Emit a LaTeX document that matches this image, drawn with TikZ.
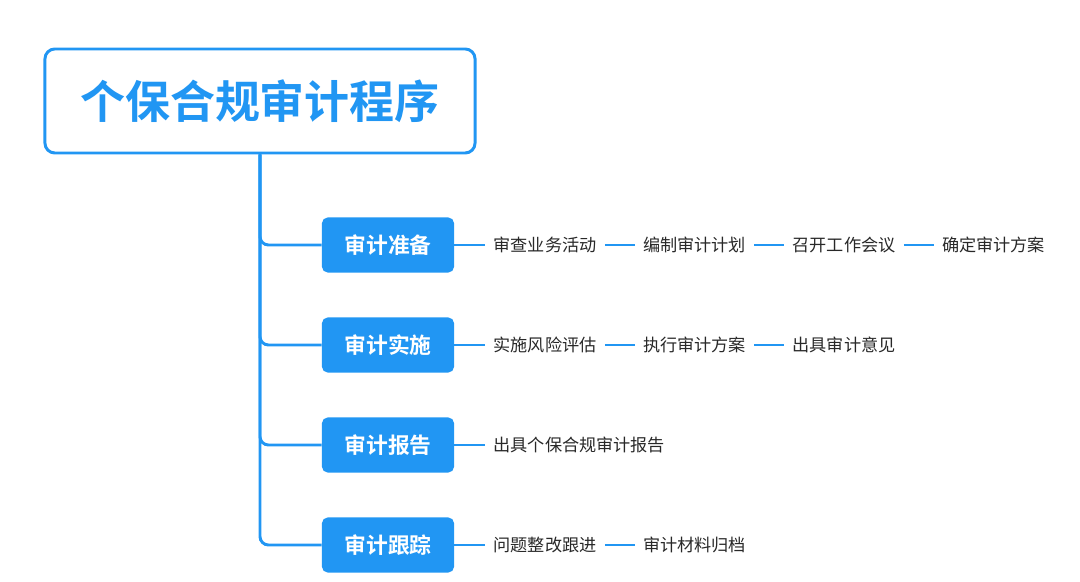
\documentclass[tikz,border=0pt]{standalone}
\usepackage{fontspec}
\setmainfont{Noto Sans CJK SC}[BoldFont={Noto Sans CJK SC Bold}]
\usepackage{xcolor}
\usepackage{tikz}
\usetikzlibrary{positioning}
\definecolor{mapblue}{RGB}{33,150,243}
\definecolor{itemtext}{RGB}{40,40,40}
\begin{document}
\begin{tikzpicture}[x=0.025cm,y=-0.025cm,
	titlebox/.style={draw=mapblue,line width=2.1pt,rounded corners=7pt,fill=white,minimum width=10.75cm,minimum height=2.6cm,text=mapblue,font=\fontsize{32}{36}\selectfont\bfseries},
	stagebox/.style={fill=mapblue,rounded corners=4pt,minimum width=3.3cm,minimum height=1.375cm,text=white,font=\fontsize{15.5}{18}\selectfont\bfseries},
	item/.style={inner xsep=0.2cm,inner ysep=2pt,text=itemtext,font=\fontsize{12.2}{14}\selectfont},
	trunk/.style={draw=mapblue,line width=2.1pt,rounded corners=6pt},
	link/.style={draw=mapblue,line width=1.5pt},
	node distance=0.75cm]
	\useasboundingbox (0,0) rectangle (1080,582);
	\node[titlebox] (title) at (260,101) {个保合规审计程序};
	\node[stagebox] (prep) at (388,245) {审计准备};
	\node[stagebox] (exec) at (388,345) {审计实施};
	\node[stagebox] (report) at (388,445) {审计报告};
	\node[stagebox] (track) at (388,545) {审计跟踪};
	\foreach \s in {prep,exec,report,track}
		\draw[trunk] (title.south) |- (\s.west);
	% 审计准备
	\node[item,right=0.775cm of prep] (p1) {审查业务活动};
	\node[item,right=of p1] (p2) {编制审计计划};
	\node[item,right=of p2] (p3) {召开工作会议};
	\node[item,right=of p3] (p4) {确定审计方案};
	\draw[link] (prep) -- (p1) (p1) -- (p2) (p2) -- (p3) (p3) -- (p4);
	% 审计实施
	\node[item,right=0.775cm of exec] (e1) {实施风险评估};
	\node[item,right=of e1] (e2) {执行审计方案};
	\node[item,right=of e2] (e3) {出具审计意见};
	\draw[link] (exec) -- (e1) (e1) -- (e2) (e2) -- (e3);
	% 审计报告
	\node[item,right=0.775cm of report] (r1) {出具个保合规审计报告};
	\draw[link] (report) -- (r1);
	% 审计跟踪
	\node[item,right=0.775cm of track] (t1) {问题整改跟进};
	\node[item,right=of t1] (t2) {审计材料归档};
	\draw[link] (track) -- (t1) (t1) -- (t2);
\end{tikzpicture}
\end{document}
